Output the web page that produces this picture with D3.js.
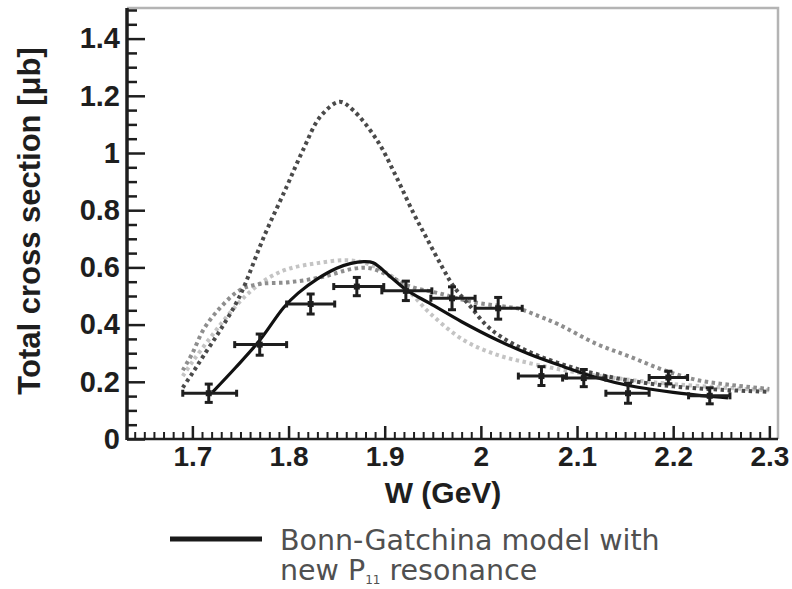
<!DOCTYPE html>
<html>
<head>
<meta charset="utf-8">
<script src="https://cdn.jsdelivr.net/npm/d3@7"></script>
<style>
  body { margin: 0; background: #fff; }
  svg { display: block; }
</style>
</head>
<body>
<svg id="chart" width="792" height="589"></svg>
<script>
// measured points (W, sigma) with horizontal bin edges and vertical errors
var pointW     = [1.717, 1.770, 1.823, 1.871, 1.922, 1.970, 2.018, 2.063, 2.107, 2.153, 2.195, 2.238];
var pointWLow  = [1.690, 1.744, 1.798, 1.847, 1.897, 1.948, 1.994, 2.039, 2.085, 2.130, 2.175, 2.216];
var pointWHigh = [1.746, 1.798, 1.848, 1.899, 1.949, 1.994, 2.043, 2.089, 2.130, 2.175, 2.215, 2.259];
var pointSigma = [0.160, 0.330, 0.472, 0.533, 0.518, 0.492, 0.457, 0.220, 0.213, 0.160, 0.215, 0.151];
var pointErr   = [0.032, 0.037, 0.035, 0.032, 0.034, 0.040, 0.038, 0.033, 0.030, 0.035, 0.022, 0.028];

// Bonn-Gatchina with new P11 (solid)
var solidW = [1.721, 1.745, 1.770, 1.795, 1.810, 1.830, 1.850, 1.865, 1.878, 1.888, 1.905, 1.923,
              1.947, 1.980, 2.017, 2.050, 2.086, 2.120, 2.155, 2.200, 2.242, 2.257];
var solidS = [0.164, 0.250, 0.345, 0.460, 0.510, 0.560, 0.597, 0.614, 0.620, 0.616, 0.570, 0.520,
              0.474, 0.410, 0.346, 0.297, 0.253, 0.215, 0.186, 0.163, 0.148, 0.144];

// dark dotted curve (tall peak)
var darkW = [1.690, 1.700, 1.711, 1.729, 1.749, 1.775, 1.798, 1.815, 1.833, 1.853, 1.867, 1.892, 1.912,
             1.930, 1.944, 1.960, 1.972, 1.990, 2.005, 2.020, 2.050, 2.100, 2.150, 2.200, 2.250, 2.300];
var darkS = [0.180, 0.230, 0.288, 0.381, 0.498, 0.712, 0.882, 1.010, 1.127, 1.179, 1.150, 1.045, 0.917,
             0.789, 0.700, 0.600, 0.532, 0.460, 0.400, 0.360, 0.305, 0.245, 0.207, 0.184, 0.172, 0.165];

// medium grey dotted curve (shoulder, high tail)
var medW = [1.690, 1.700, 1.712, 1.730, 1.750, 1.770, 1.800, 1.833, 1.867, 1.885, 1.905, 1.925,
            1.957, 1.990, 2.020, 2.040, 2.060, 2.080, 2.120, 2.155, 2.190, 2.225, 2.260, 2.300];
var medS = [0.240, 0.300, 0.385, 0.463, 0.522, 0.542, 0.548, 0.565, 0.595, 0.597, 0.570, 0.535,
            0.509, 0.480, 0.465, 0.455, 0.430, 0.402, 0.333, 0.288, 0.241, 0.206, 0.189, 0.175];

// light grey dotted curve
var lightW = [1.690, 1.700, 1.720, 1.740, 1.760, 1.780, 1.800, 1.830, 1.860, 1.880, 1.900, 1.920,
              1.947, 1.982, 2.017, 2.051, 2.086, 2.120, 2.160, 2.200, 2.250, 2.300];
var lightS = [0.220, 0.270, 0.360, 0.445, 0.515, 0.565, 0.595, 0.615, 0.625, 0.615, 0.585, 0.535,
              0.440, 0.346, 0.294, 0.265, 0.241, 0.222, 0.205, 0.192, 0.180, 0.170];

var xMajor = [1.7, 1.8, 1.9, 2.0, 2.1, 2.2, 2.3];
var yMajor = [0, 0.2, 0.4, 0.6, 0.8, 1.0, 1.2, 1.4];

(function(){
  var svg = d3.select('#chart');
  var mLeft = 127, mRight = 778, mTop = 8, mBottom = 439;

  var x = d3.scaleLinear().domain([1.632, 2.309]).range([mLeft, mRight]);
  var y = d3.scaleLinear().domain([0, 1.507]).range([mBottom, mTop]);

  var fmt = function(d){ return d3.format('~g')(+d.toFixed(1)); };
  var ink = '#1e1e1e';
  var font = '"Liberation Sans", Arial, sans-serif';

  // frame (top and right in grey)
  svg.append('path')
    .attr('d', 'M' + mLeft + ',' + mTop + 'H' + mRight + 'V' + mBottom)
    .attr('fill', 'none')
    .attr('stroke', '#b4b4b4')
    .attr('stroke-width', 2.5);

  // minor ticks
  var xMinor = d3.range(164, 231).map(function(v){ return v / 100; })
    .filter(function(v){ return Math.abs(v * 10 - Math.round(v * 10)) > 1e-6; });
  var yMinor = d3.range(1, 31).map(function(v){ return v * 0.05; })
    .filter(function(v){ return Math.abs(v * 5 - Math.round(v * 5)) > 1e-6; });

  svg.append('g')
    .attr('transform', 'translate(0,' + mBottom + ')')
    .call(d3.axisBottom(x).tickValues(xMinor).tickSize(-7).tickFormat(''))
    .call(function(g){ g.select('.domain').remove(); })
    .selectAll('line').attr('stroke', ink).attr('stroke-width', 2);

  svg.append('g')
    .attr('transform', 'translate(' + mLeft + ',0)')
    .call(d3.axisLeft(y).tickValues(yMinor).tickSize(-10).tickFormat(''))
    .call(function(g){ g.select('.domain').remove(); })
    .selectAll('line').attr('stroke', ink).attr('stroke-width', 2.5);

  // major ticks + labels
  var xAxis = svg.append('g')
    .attr('transform', 'translate(0,' + mBottom + ')')
    .call(d3.axisBottom(x).tickValues(xMajor).tickSize(-13).tickPadding(7).tickFormat(fmt));
  xAxis.select('.domain').remove();
  xAxis.selectAll('line').attr('stroke', ink).attr('stroke-width', 2.5);
  xAxis.selectAll('text')
    .attr('fill', ink)
    .attr('dy', '0.72em')
    .style('font-family', font)
    .style('font-weight', 'bold')
    .style('font-size', '28px');

  var yAxis = svg.append('g')
    .attr('transform', 'translate(' + mLeft + ',0)')
    .call(d3.axisLeft(y).tickValues(yMajor).tickSize(-18).tickPadding(7).tickFormat(fmt));
  yAxis.select('.domain').remove();
  yAxis.selectAll('line').attr('stroke', ink).attr('stroke-width', 2.5);
  yAxis.selectAll('text')
    .attr('fill', ink)
    .style('font-family', font)
    .style('font-weight', 'bold')
    .style('font-size', '29px');

  // axis lines
  svg.append('line')
    .attr('x1', mLeft).attr('x2', mRight).attr('y1', mBottom).attr('y2', mBottom)
    .attr('stroke', ink).attr('stroke-width', 2.5);
  svg.append('line')
    .attr('x1', mLeft).attr('x2', mLeft).attr('y1', mTop).attr('y2', mBottom + 1)
    .attr('stroke', ink).attr('stroke-width', 3.5);

  // axis titles
  svg.append('text')
    .attr('transform', 'translate(40,221) rotate(-90)')
    .attr('text-anchor', 'middle')
    .attr('fill', ink)
    .style('font-family', font)
    .style('font-weight', 'bold')
    .style('font-size', '31px')
    .text('Total cross section [\u03bcb]');

  svg.append('text')
    .attr('x', 443).attr('y', 503)
    .attr('text-anchor', 'middle')
    .attr('fill', ink)
    .style('font-family', font)
    .style('font-weight', 'bold')
    .style('font-size', '30px')
    .text('W (GeV)');

  // curves
  var line = d3.line()
    .x(function(d){ return x(d[0]); })
    .y(function(d){ return y(d[1]); })
    .curve(d3.curveCatmullRom.alpha(0.5));

  function curve(ws, ss, color, dash, width){
    svg.append('path')
      .datum(d3.zip(ws, ss))
      .attr('d', line)
      .attr('fill', 'none')
      .attr('stroke', color)
      .attr('stroke-width', width)
      .attr('stroke-dasharray', dash);
  }

  curve(lightW, lightS, '#c4c4c4', '3.5,3.5', 4);
  curve(medW, medS, '#8e8e8e', '3.5,3.5', 4);
  curve(darkW, darkS, '#4a4a4a', '3.5,3.5', 4);
  curve(solidW, solidS, '#111', null, 3.2);

  // data points with error bars
  var pts = svg.append('g').attr('stroke', ink).attr('stroke-width', 3);
  pointW.forEach(function(w, i){
    var cx = x(w), cy = y(pointSigma[i]);
    var x0 = x(pointWLow[i]), x1 = x(pointWHigh[i]);
    var y0 = y(pointSigma[i] - pointErr[i]), y1 = y(pointSigma[i] + pointErr[i]);
    pts.append('line').attr('x1', x0).attr('x2', x1).attr('y1', cy).attr('y2', cy);
    pts.append('line').attr('x1', cx).attr('x2', cx).attr('y1', y0).attr('y2', y1);
    pts.append('line').attr('x1', x0).attr('x2', x0).attr('y1', cy - 3.5).attr('y2', cy + 3.5);
    pts.append('line').attr('x1', x1).attr('x2', x1).attr('y1', cy - 3.5).attr('y2', cy + 3.5);
    pts.append('line').attr('x1', cx - 4).attr('x2', cx + 4).attr('y1', y0).attr('y2', y0);
    pts.append('line').attr('x1', cx - 4).attr('x2', cx + 4).attr('y1', y1).attr('y2', y1);
    pts.append('rect').attr('x', cx - 3).attr('y', cy - 3).attr('width', 6).attr('height', 6)
      .attr('fill', ink).attr('stroke', 'none');
  });

  // legend
  var legend = svg.append('g');
  legend.append('line')
    .attr('x1', 170).attr('x2', 262).attr('y1', 539).attr('y2', 539)
    .attr('stroke', '#1a1a1a').attr('stroke-width', 5);
  var lt = legend.append('text')
    .attr('fill', '#505050')
    .style('font-family', '"DejaVu Sans", Verdana, sans-serif')
    .style('font-size', '28.5px');
  lt.append('tspan').attr('x', 280).attr('y', 550).text('Bonn-Gatchina model with');
  lt.append('tspan').attr('x', 280).attr('y', 580).text('new P');
  lt.append('tspan').attr('dy', 4).style('font-size', '12px').text('11');
  lt.append('tspan').attr('dy', -4).text(' resonance');
})();
</script>
</body>
</html>
